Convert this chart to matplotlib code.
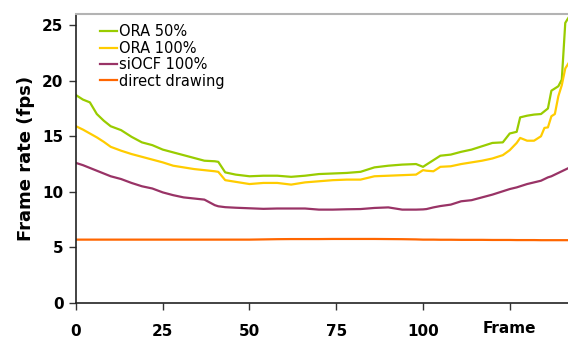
import matplotlib
matplotlib.use('Agg')
import matplotlib.pyplot as plt

plt.rcParams['font.family'] = ['DejaVu Sans']

# sampled frame numbers and measured frame rates (fps)
frames = [0, 2, 4, 6, 8, 10, 13, 16, 19, 22, 25, 28, 31, 34, 37, 40, 41, 43, 46, 50,
          54, 58, 62, 66, 70, 74, 78, 82, 86, 90, 94, 98, 100, 101, 103, 105, 108, 111,
          114, 117, 120, 123, 125, 127, 128, 130, 132, 134, 135, 136, 137, 138, 139,
          140, 141, 142]

ora50 = [18.7, 18.3, 18.05, 17.0, 16.4, 15.9, 15.55, 14.95, 14.45, 14.2, 13.8, 13.55,
         13.3, 13.05, 12.8, 12.75, 12.7, 11.75, 11.55, 11.4, 11.45, 11.45, 11.35, 11.45,
         11.6, 11.65, 11.7, 11.8, 12.2, 12.35, 12.45, 12.5, 12.25, 12.45, 12.85, 13.25,
         13.35, 13.6, 13.8, 14.1, 14.4, 14.45, 15.25, 15.4, 16.7, 16.85, 16.95, 17.0,
         17.25, 17.5, 19.1, 19.3, 19.5, 20.1, 25.2, 25.7]

ora100 = [15.9, 15.6, 15.25, 14.9, 14.5, 14.05, 13.7, 13.4, 13.15, 12.9, 12.65, 12.35,
          12.2, 12.05, 11.95, 11.85, 11.8, 11.05, 10.9, 10.7, 10.8, 10.8, 10.65, 10.85,
          10.95, 11.05, 11.1, 11.1, 11.4, 11.45, 11.5, 11.55, 11.95, 11.9, 11.85, 12.25,
          12.3, 12.5, 12.65, 12.8, 13.0, 13.3, 13.75, 14.4, 14.85, 14.6, 14.6, 15.0,
          15.75, 15.8, 16.8, 17.0, 18.6, 19.6, 21.1, 21.6]

siocf100 = [12.6, 12.4, 12.15, 11.9, 11.65, 11.4, 11.15, 10.8, 10.5, 10.3, 9.95, 9.7,
            9.5, 9.4, 9.3, 8.8, 8.7, 8.62, 8.57, 8.52, 8.47, 8.5, 8.5, 8.5, 8.4, 8.4,
            8.43, 8.45, 8.55, 8.6, 8.4, 8.4, 8.42, 8.45, 8.6, 8.72, 8.85, 9.15, 9.25,
            9.5, 9.75, 10.05, 10.25, 10.4, 10.5, 10.7, 10.85, 11.0, 11.15, 11.3, 11.4,
            11.55, 11.7, 11.85, 12.0, 12.15]

direct = [5.7, 5.7, 5.7, 5.7, 5.7, 5.7, 5.7, 5.7, 5.7, 5.7, 5.7, 5.7, 5.7, 5.7, 5.7,
          5.7, 5.7, 5.7, 5.7, 5.7, 5.72, 5.74, 5.75, 5.75, 5.75, 5.76, 5.76, 5.76, 5.76,
          5.75, 5.74, 5.72, 5.7, 5.7, 5.7, 5.69, 5.69, 5.68, 5.68, 5.68, 5.67, 5.67,
          5.67, 5.66, 5.66, 5.66, 5.66, 5.65, 5.65, 5.65, 5.65, 5.65, 5.65, 5.65, 5.65,
          5.65]

xticks = [0, 25, 50, 75, 100, 125]
xticklabels = ['0', '25', '50', '75', '100', 'Frame']
yticks = [0, 5, 10, 15, 20, 25]

fig = plt.figure(figsize=(5.68, 3.38), dpi=100)
ax = fig.add_axes([0.1338, 0.1036, 0.8675, 0.855])

ax.plot(frames, ora50, color='#99cc00', lw=1.6, label='ORA 50%')
ax.plot(frames, ora100, color='#ffcc00', lw=1.6, label='ORA 100%')
ax.plot(frames, siocf100, color='#993366', lw=1.6, label='siOCF 100%')
ax.plot(frames, direct, color='#ff6600', lw=1.6, label='direct drawing')

ax.set_xlim(0, 142)
ax.set_ylim(0, 26)
ax.set_xticks(xticks)
ax.set_xticklabels(xticklabels)
ax.set_yticks(yticks)

ax.tick_params(axis='both', direction='out', length=5, width=1, colors='#333333',
               labelsize=11)
ax.tick_params(axis='x', pad=10)
ax.tick_params(axis='y', pad=4)
for lab in ax.get_xticklabels() + ax.get_yticklabels():
    lab.set_fontweight('bold')
    lab.set_color('black')
# the axis name sits in place of the last tick label, a little higher
ax.get_xticklabels()[-1].set_y(0.01)

ax.spines['right'].set_visible(False)
ax.spines['top'].set_color('#b3b3b3')
ax.spines['top'].set_linewidth(1.5)
for side in ['left', 'bottom']:
    ax.spines[side].set_color('#222222')
    ax.spines[side].set_linewidth(1.2)

ax.set_ylabel('Frame rate (fps)', fontsize=13, fontweight='bold', labelpad=5)

ax.legend(loc='upper left', frameon=False, fontsize=10.5, handlelength=1.15,
          handletextpad=0.15, labelspacing=0.1, borderaxespad=0.3,
          bbox_to_anchor=(0.028, 1.0))

fig.savefig('out.png', dpi=100)
